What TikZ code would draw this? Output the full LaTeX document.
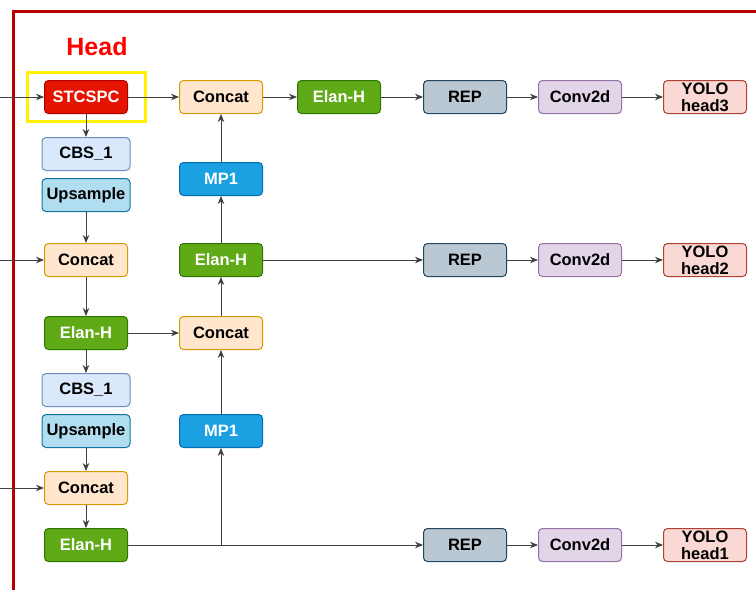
\documentclass[tikz,border=0pt]{standalone}
\usepackage{fontspec}
\setmainfont{Liberation Sans}
\usetikzlibrary{arrows.meta,fit}

\definecolor{stcRed}{HTML}{E51400}
\definecolor{stcLine}{HTML}{B20000}
\definecolor{catFill}{HTML}{FFE6CC}
\definecolor{catLine}{HTML}{D79B00}
\definecolor{elanFill}{HTML}{60A917}
\definecolor{elanLine}{HTML}{2D7600}
\definecolor{cbsFill}{HTML}{DAE8FC}
\definecolor{cbsLine}{HTML}{6C8EBF}
\definecolor{upFill}{HTML}{B1DDF0}
\definecolor{upLine}{HTML}{10739E}
\definecolor{mpFill}{HTML}{1BA1E2}
\definecolor{mpLine}{HTML}{006EAF}
\definecolor{repFill}{HTML}{BAC8D3}
\definecolor{repLine}{HTML}{23445D}
\definecolor{convFill}{HTML}{E1D5E7}
\definecolor{convLine}{HTML}{9673A6}
\definecolor{yoloFill}{HTML}{FAD9D5}
\definecolor{yoloLine}{HTML}{AE4132}
\definecolor{frameRed}{HTML}{B80000}

\begin{document}
\begin{tikzpicture}[x=1pt,y=-1pt]

  \useasboundingbox (0,0) rectangle (756,590);
  \node[anchor=center,inner sep=0] (X) at (0,0) {};

  % node styles
  \tikzstyle{Box}=[
  draw,
  line width=1pt,
  font=\fontsize{16.5}{17}\selectfont\bfseries,
  align=center,
  inner sep=0pt,
  minimum width=83pt,minimum height=33pt,
  shape=rectangle,rounded corners=4pt]

  \tikzstyle{Wide}=[minimum width=88pt]
  \tikzstyle{Arrow}=[-{Stealth[length=8pt,width=6.5pt]},line width=0.9pt,black!75]

  % frame and title
  \draw[frameRed,line width=3pt] (13,590) -- (13,11) -- (756,11);
  \node[text=red,font=\fontsize{25}{27}\selectfont\bfseries] (T) at (97,47) {Head};

  % first column
  \draw (X) node[Box,fill=stcRed,draw=stcLine,text=white] (S)  at +(86, 97) {STCSPC};
  \draw (X) node[Box,Wide,fill=cbsFill,draw=cbsLine]     (C1) at +(86,154) {CBS\_1};
  \draw (X) node[Box,Wide,fill=upFill,draw=upLine]       (U1) at +(86,195) {Upsample};
  \draw (X) node[Box,fill=catFill,draw=catLine]          (K1) at +(86,260) {Concat};
  \draw (X) node[Box,fill=elanFill,draw=elanLine,text=white] (E1) at +(86,333) {Elan-H};
  \draw (X) node[Box,Wide,fill=cbsFill,draw=cbsLine]     (C2) at +(86,390) {CBS\_1};
  \draw (X) node[Box,Wide,fill=upFill,draw=upLine]       (U2) at +(86,431) {Upsample};
  \draw (X) node[Box,fill=catFill,draw=catLine]          (K2) at +(86,488) {Concat};
  \draw (X) node[Box,fill=elanFill,draw=elanLine,text=white] (E2) at +(86,545) {Elan-H};

  \node[draw=yellow,line width=3pt,inner xsep=17pt,inner ysep=7.5pt,fit=(S)] (HL) {};

  % second column
  \draw (X) node[Box,fill=catFill,draw=catLine]          (K5) at +(221, 97) {Concat};
  \draw (X) node[Box,fill=mpFill,draw=mpLine,text=white] (M2) at +(221,179) {MP1};
  \draw (X) node[Box,fill=elanFill,draw=elanLine,text=white] (E4) at +(221,260) {Elan-H};
  \draw (X) node[Box,fill=catFill,draw=catLine]          (K4) at +(221,333) {Concat};
  \draw (X) node[Box,fill=mpFill,draw=mpLine,text=white] (M1) at +(221,431) {MP1};

  % output rows
  \draw (X) node[Box,fill=elanFill,draw=elanLine,text=white] (E5) at +(339,97) {Elan-H};

  \draw (X) node[Box,fill=repFill,draw=repLine]   (R3) at +(465, 97) {REP};
  \draw (X) node[Box,fill=repFill,draw=repLine]   (R2) at +(465,260) {REP};
  \draw (X) node[Box,fill=repFill,draw=repLine]   (R1) at +(465,545) {REP};

  \draw (X) node[Box,fill=convFill,draw=convLine] (V3) at +(580, 97) {Conv2d};
  \draw (X) node[Box,fill=convFill,draw=convLine] (V2) at +(580,260) {Conv2d};
  \draw (X) node[Box,fill=convFill,draw=convLine] (V1) at +(580,545) {Conv2d};

  \draw (X) node[Box,fill=yoloFill,draw=yoloLine] (Y3) at +(705, 97) {YOLO\\head3};
  \draw (X) node[Box,fill=yoloFill,draw=yoloLine] (Y2) at +(705,260) {YOLO\\head2};
  \draw (X) node[Box,fill=yoloFill,draw=yoloLine] (Y1) at +(705,545) {YOLO\\head1};

  % inputs
  \coordinate (I3) at (0, 97);
  \coordinate (I2) at (0,260);
  \coordinate (I1) at (0,488);
  \coordinate (B)  at (M1 |- E2);

  \draw[Arrow] (I3) -- (S);
  \draw[Arrow] (I2) -- (K1);
  \draw[Arrow] (I1) -- (K2);

  % top-down path
  \draw[Arrow] (S) -- (C1);
  \draw[Arrow] (U1) -- (K1);
  \draw[Arrow] (K1) -- (E1);
  \draw[Arrow] (E1) -- (C2);
  \draw[Arrow] (U2) -- (K2);
  \draw[Arrow] (K2) -- (E2);

  % bottom-up path
  \draw[Arrow] (E2) -- (R1);
  \draw[Arrow] (B) -- (M1);
  \draw[Arrow] (M1) -- (K4);
  \draw[Arrow] (E1) -- (K4);
  \draw[Arrow] (K4) -- (E4);
  \draw[Arrow] (E4) -- (M2);
  \draw[Arrow] (M2) -- (K5);
  \draw[Arrow] (S) -- (K5);
  \draw[Arrow] (K5) -- (E5);

  % heads
  \draw[Arrow] (E5) -- (R3);
  \draw[Arrow] (E4) -- (R2);
  \draw[Arrow] (R3) -- (V3);
  \draw[Arrow] (R2) -- (V2);
  \draw[Arrow] (R1) -- (V1);
  \draw[Arrow] (V3) -- (Y3);
  \draw[Arrow] (V2) -- (Y2);
  \draw[Arrow] (V1) -- (Y1);

\end{tikzpicture}
\end{document}
